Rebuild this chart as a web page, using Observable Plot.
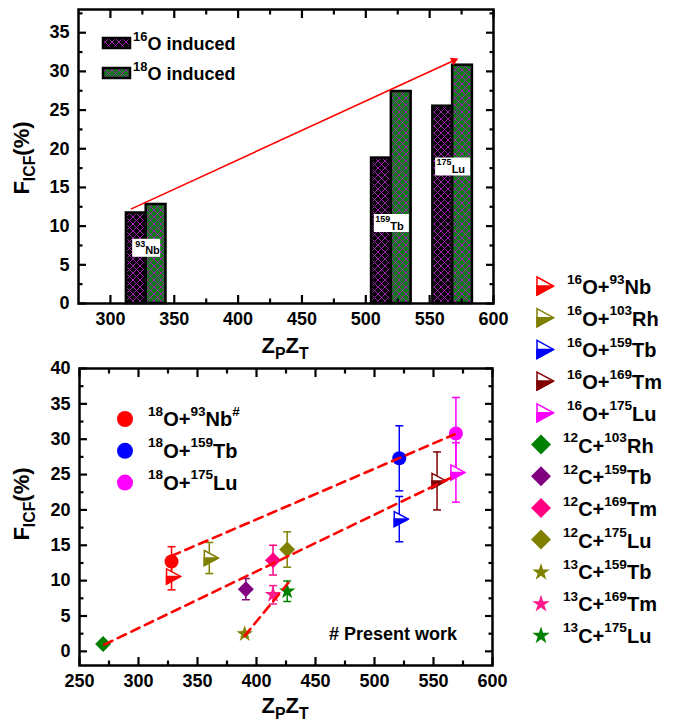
<!DOCTYPE html>
<html><head><meta charset="utf-8">
<script src="https://cdn.jsdelivr.net/npm/d3@7"></script>
<script src="https://cdn.jsdelivr.net/npm/@observablehq/plot@0.6"></script>
<style>
body{margin:0;background:#fff;}
#wrap{position:relative;width:685px;height:725px;overflow:hidden;}
#top,#bottom,#overlay{position:absolute;left:0;}
#top{top:0}#bottom{top:360px}#overlay{top:0;pointer-events:none}
</style></head><body>
<div id="wrap"><div id="top"></div><div id="bottom"></div>
<svg id="overlay" width="685" height="725"></svg></div>
<script>
// ---------- DATA: top bar chart ----------
const barMass = ["93", "159", "175"];
const barElem = ["Nb", "Tb", "Lu"];
const barZpZt = [328, 520, 568];
const icf16O = [11.7, 18.8, 25.5];
const icf18O = [12.8, 27.4, 30.8];
const barLabelY = [7.2, 10.4, 17.7];
const arrowStart = [316, 12.2];
const arrowEnd = [569, 31.4];
const topXTicks = [300, 350, 400, 450, 500, 550, 600];
const topYTicks = [0, 5, 10, 15, 20, 25, 30, 35];
const topLegend = ["16O induced", "18O induced"];

// ---------- DATA: bottom scatter chart ----------
const o18Names = ["18O+93Nb#", "18O+159Tb", "18O+175Lu"];
const o18X = [328, 521, 569];
const o18Y = [12.7, 27.3, 30.8];
const o18Err = [2.1, 4.6, 5.1];

const o16Names = ["16O+93Nb", "16O+103Rh", "16O+159Tb", "16O+169Tm", "16O+175Lu"];
const o16X = [328, 360, 521, 553, 569];
const o16Y = [10.6, 13.2, 18.7, 24.1, 25.3];
const o16Err = [1.9, 2.2, 3.2, 4.1, 4.2];

const c12Names = ["12C+103Rh", "12C+159Tb", "12C+169Tm", "12C+175Lu"];
const c12X = [270, 391, 414, 426];
const c12Y = [1.05, 8.8, 12.9, 14.4];
const c12Err = [0, 1.5, 2.1, 2.5];

const c13Names = ["13C+159Tb", "13C+169Tm", "13C+175Lu"];
const c13X = [390, 414, 426];
const c13Y = [2.45, 8.0, 8.5];
const c13Err = [0.35, 1.3, 1.45];

const fitUpperX = [328, 568], fitUpperY = [13.5, 30.7];
const fitLowerX = [271, 568], fitLowerY = [0.95, 24.8];
const fitStarX = [390, 427], fitStarY = [2.2, 9.7];

const botXTicks = [250, 300, 350, 400, 450, 500, 550, 600];
const botYTicks = [0, 5, 10, 15, 20, 25, 30, 35, 40];
const presentNote = "# Present work";

// ---------- STYLES ----------
const FONT = '"Liberation Sans", Arial, Helvetica, sans-serif';
const o18Colors = ["#ff0000", "#0000ff", "#ff00ff"];
const o16Colors = ["#ff0000", "#808000", "#0000ff", "#800000", "#ff00ff"];
const c12Colors = ["#008000", "#800080", "#ff0080", "#808000"];
const c13Colors = ["#808000", "#ff1a8c", "#008000"];
const BAR_W = 15.5;

// custom symbols
const triOutline = {draw(c){c.moveTo(-5,-7.5);c.lineTo(9,0);c.lineTo(-5,7.5);c.closePath();}};
const triHalf = {draw(c){c.moveTo(-5,0);c.lineTo(9,0);c.lineTo(-5,7.5);c.closePath();}};
const diamondSym = {draw(c){c.moveTo(0,-8);c.lineTo(8,0);c.lineTo(0,8);c.lineTo(-8,0);c.closePath();}};
const capSym = {draw(c){c.moveTo(-4,0);c.lineTo(4,0);}};
const boxSym = {draw(c,size){const n=Math.sqrt(size/Math.PI);const hw=7+3.5*n;c.rect(-hw,-9,2*hw,18);}};

const range = (a,b,s)=>d3.range(a,b+1e-9,s);

function axesMarks(xMajor, xMinor, yMajor, yMinor){
  const L=8, l=4.5, sw=2.2;
  const o = {tickFormat:()=>"", label:null, strokeWidth:sw};
  return [
    Plot.axisX({...o, anchor:"bottom", ticks:xMajor, tickSize:L, dy:-L}),
    Plot.axisX({...o, anchor:"bottom", ticks:xMinor, tickSize:l, dy:-l}),
    Plot.axisX({...o, anchor:"top", ticks:xMajor, tickSize:L, dy:L}),
    Plot.axisX({...o, anchor:"top", ticks:xMinor, tickSize:l, dy:l}),
    Plot.axisY({...o, anchor:"left", ticks:yMajor, tickSize:L, dx:L}),
    Plot.axisY({...o, anchor:"left", ticks:yMinor, tickSize:l, dx:l}),
    Plot.axisY({...o, anchor:"right", ticks:yMajor, tickSize:L, dx:-L}),
    Plot.axisY({...o, anchor:"right", ticks:yMinor, tickSize:l, dx:-l}),
    Plot.axisX({anchor:"bottom", ticks:xMajor, tickSize:0, tickPadding:9, label:null, tickFormat:d=>String(d)}),
    Plot.axisY({anchor:"left", ticks:yMajor, tickSize:0, tickPadding:9, label:null, tickFormat:d=>String(d)}),
    Plot.frame({stroke:"black", strokeWidth:2.5})
  ];
}
const plotStyle = {fontFamily:FONT, fontWeight:"bold", fontSize:"18px", color:"black", background:"transparent", overflow:"visible"};

// ---------- TOP PLOT ----------
const bars16 = barZpZt.map((z,i)=>({z, v:icf16O[i]}));
const bars18 = barZpZt.map((z,i)=>({z, v:icf18O[i]}));
const barLabels = barZpZt.map((z,i)=>({z, y:barLabelY[i], mass:barMass[i], elem:barElem[i]}));

const topPlot = Plot.plot({
  width:510, height:360, marginLeft:78, marginRight:17, marginTop:9, marginBottom:57,
  x:{domain:[275,600]}, y:{domain:[0,38]}, r:{type:"identity"},
  style:plotStyle,
  marks:[
    Plot.rect(bars16, {x1:d=>d.z-BAR_W, x2:"z", y1:()=>0, y2:"v", fill:"url(#p16)", stroke:"black", strokeWidth:2.5}),
    Plot.rect(bars18, {x1:"z", x2:d=>d.z+BAR_W, y1:()=>0, y2:"v", fill:"url(#p18)", stroke:"black", strokeWidth:2.5}),
    Plot.dot(barLabels, {x:"z", y:"y", r:d=>d.mass.length, symbol:boxSym, fill:"white", stroke:"none"}),
    Plot.text(barLabels, {x:"z", y:"y", text:"mass", textAnchor:"end", dx:-1, dy:-4, fontSize:9, fontWeight:"bold"}),
    Plot.text(barLabels, {x:"z", y:"y", text:"elem", textAnchor:"start", dx:-1, dy:3, fontSize:11, fontWeight:"bold"}),
    Plot.link([0], {x1:()=>arrowStart[0], y1:()=>arrowStart[1], x2:()=>arrowEnd[0], y2:()=>arrowEnd[1], stroke:"red", strokeWidth:1.6}),
    Plot.dot([0], {x:()=>arrowEnd[0], y:()=>arrowEnd[1], symbol:"triangle2", r:4, rotate:65, fill:"red", stroke:"none"}),
    ...axesMarks(topXTicks, range(325,575,50), topYTicks, range(2.5,37.5,5))
  ]
});
document.getElementById("top").appendChild(topPlot);

// patterns
const defs = d3.select(topPlot).insert("defs", ":first-child");
function addPattern(id, bg){
  const p = defs.append("pattern").attr("id", id).attr("width",7).attr("height",7).attr("patternUnits","userSpaceOnUse");
  p.append("rect").attr("width",7).attr("height",7).attr("fill",bg);
  p.append("path").attr("d","M0,0L7,7M7,0L0,7M-1,6L1,8M6,-1L8,1").attr("stroke","#a020b0").attr("stroke-width",1);
}
addPattern("p16","#000000");
addPattern("p18","#0a7a12");

// ---------- BOTTOM PLOT ----------
const mk = (names,X,Y,E,C)=>names.map((n,i)=>({name:n, x:X[i], y:Y[i], e:E[i], c:C[i]}));
const o18 = mk(o18Names,o18X,o18Y,o18Err,o18Colors);
const o16 = mk(o16Names,o16X,o16Y,o16Err,o16Colors);
const c12 = mk(c12Names,c12X,c12Y,c12Err,c12Colors);
const c13 = mk(c13Names,c13X,c13Y,c13Err,c13Colors);
const allPts = [...o16, ...c12, ...c13, ...o18].filter(d=>d.e>0);
const fitLine = (X,Y)=>X.map((x,i)=>({x, y:Y[i]}));
const dash = {x:"x", y:"y", stroke:"#ff0000", strokeWidth:2.6, strokeDasharray:"9,6"};

const botPlot = Plot.plot({
  width:510, height:365, marginLeft:79, marginRight:18, marginTop:8, marginBottom:60,
  x:{domain:[250,600]}, y:{domain:[-2,40]}, color:{type:"identity"},
  style:plotStyle,
  marks:[
    Plot.ruleX(allPts, {x:"x", y1:d=>d.y-d.e, y2:d=>d.y+d.e, stroke:"c", strokeWidth:1.5}),
    Plot.dot(allPts, {x:"x", y:d=>d.y+d.e, symbol:capSym, stroke:"c", fill:"none", strokeWidth:1.5}),
    Plot.dot(allPts, {x:"x", y:d=>d.y-d.e, symbol:capSym, stroke:"c", fill:"none", strokeWidth:1.5}),
    Plot.dot(c12, {x:"x", y:"y", symbol:diamondSym, fill:"c", stroke:"none"}),
    Plot.dot(c13, {x:"x", y:"y", symbol:"star", r:5.2, fill:"c", stroke:"none"}),
    Plot.dot(o16, {x:"x", y:"y", symbol:triOutline, fill:"white", stroke:"c", strokeWidth:1.5}),
    Plot.dot(o16, {x:"x", y:"y", symbol:triHalf, fill:"c", stroke:"c", strokeWidth:1.5}),
    Plot.dot(o18, {x:"x", y:"y", r:7, fill:"c", stroke:"none"}),
    Plot.line(fitLine(fitUpperX,fitUpperY), dash),
    Plot.line(fitLine(fitLowerX,fitLowerY), dash),
    Plot.line(fitLine(fitStarX,fitStarY), dash),
    ...axesMarks(botXTicks, range(275,575,50), botYTicks, range(2.5,37.5,5))
  ]
});
document.getElementById("bottom").appendChild(botPlot);

// ---------- OVERLAY TEXT / LEGENDS ----------
const ov = d3.select("#overlay");
function parts(label){
  const out=[]; const re=/(\d+)|(#)|([^\d#]+)/g; let m;
  while((m=re.exec(label))) out.push(m[1]?[m[1],"sup"]:m[2]?[m[2],"sup"]:[m[3],null]);
  return out;
}
function rich(x,y,prts,size,opt={}){
  const t = ov.append("text").attr("x",x).attr("y",y).attr("font-family",FONT).attr("font-weight","bold")
    .attr("font-size",size).attr("fill","black").attr("text-anchor",opt.anchor||"start");
  if(opt.rotate) t.attr("transform",`rotate(-90,${x},${y})`);
  let shift=0;
  for(const [s,k] of prts){
    const target = k==="sup" ? -0.52*size : k==="sub" ? 0.28*size : 0;
    t.append("tspan").attr("dy",target-shift).attr("font-size", k ? size*(opt.ratio||0.68) : size).text(s);
    shift=target;
  }
  return t;
}

// axis titles
const yTitle = [["F",null],["ICF","sub"],["(%)",null]];
rich(29,158,yTitle,22,{anchor:"middle",rotate:true,ratio:0.72});
rich(29,504,yTitle,22,{anchor:"middle",rotate:true,ratio:0.72});
const xTitle = [["Z",null],["P","sub"],["Z",null],["T","sub"]];
rich(285,353,xTitle,22,{anchor:"middle",ratio:0.72});
rich(285,713,xTitle,22,{anchor:"middle",ratio:0.72});

// top legend
topLegend.forEach((lab,i)=>{
  const cy = 43 + i*30;
  ov.append("rect").attr("x",103).attr("y",cy-5).attr("width",27).attr("height",10)
    .attr("fill", i===0?"url(#p16)":"url(#p18)").attr("stroke","black").attr("stroke-width",2.5);
  rich(133, cy+7, parts(lab), 18, {ratio:0.72});
});

// bottom-left legend (18O)
o18.forEach((d,i)=>{
  const cy = 419 + i*31.8;
  ov.append("circle").attr("cx",125).attr("cy",cy).attr("r",8).attr("fill",d.c);
  rich(148, cy+7, parts(d.name), 20);
});
rich(457, 640, [[presentNote,null]], 18, {anchor:"end"});

// right legend
const legendItems = [
  ...o16.map(d=>({...d, kind:"tri"})),
  ...c12.map(d=>({...d, kind:"dia"})),
  ...c13.map(d=>({...d, kind:"star"}))
];
legendItems.forEach((d,i)=>{
  const cy = 286 + i*31.7, cx = 543;
  const g = ov.append("g").attr("transform",`translate(${cx},${cy})`);
  if(d.kind==="tri"){
    g.append("path").attr("d","M-6,-9L10.5,0L-6,9Z").attr("fill","white").attr("stroke",d.c).attr("stroke-width",1.5);
    g.append("path").attr("d","M-6,0L10.5,0L-6,9Z").attr("fill",d.c).attr("stroke",d.c).attr("stroke-width",1.5);
  } else if(d.kind==="dia"){
    g.append("path").attr("d","M-2,-10L8,0L-2,10L-12,0Z").attr("fill",d.c);
  } else {
    g.append("path").attr("d",d3.symbol(d3.symbolStar, 95)()).attr("fill",d.c).attr("transform","translate(-2,1)");
  }
  rich(d.kind==="tri"?567:563, cy+8, parts(d.name), 20);
});
</script></body></html>
